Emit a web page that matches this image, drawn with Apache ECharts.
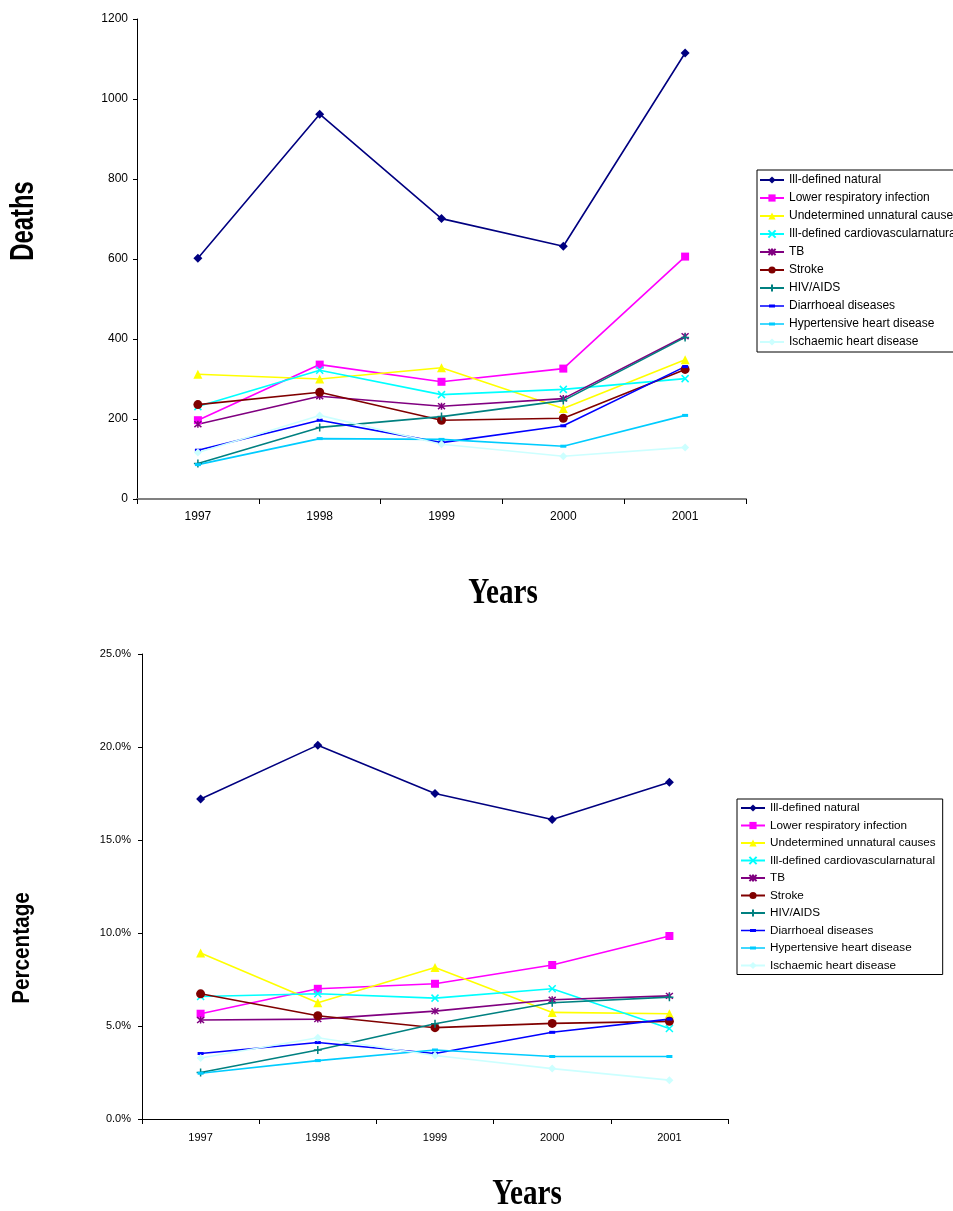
<!DOCTYPE html>
<html><head><meta charset="utf-8">
<script src="https://cdn.jsdelivr.net/npm/echarts@6/dist/echarts.min.js"></script>
<style>html,body{margin:0;padding:0;background:#fff}#c{width:953px;height:1211px}</style>
</head><body><div id="c"></div>
<script>
const years = ['1997','1998','1999','2000','2001'];
const seriesNames = ['Ill-defined natural','Lower respiratory infection','Undetermined unnatural causes','Ill-defined cardiovascularnatural','TB','Stroke','HIV/AIDS','Diarrhoeal diseases','Hypertensive heart disease','Ischaemic heart disease'];

// Deaths
const deathsIllNatural   = [602, 962, 701, 632, 1115];
const deathsLowerResp    = [197, 336, 293, 326, 606];
const deathsUndetermined = [312, 300, 328, 226, 348];
const deathsCardio       = [231, 322, 261, 274, 301];
const deathsTB           = [187, 257, 232, 251, 407];
const deathsStroke       = [236, 267, 197, 202, 324];
const deathsHIV          = [89, 179, 206, 246, 404];
const deathsDiarrhoeal   = [122, 197, 141, 183, 331];
const deathsHypertensive = [86, 151, 149, 132, 209];
const deathsIschaemic    = [116, 209, 137, 107, 129];

// Percentage
const pctIllNatural   = [17.2, 20.1, 17.5, 16.1, 18.1];
const pctLowerResp    = [5.66, 7.0, 7.27, 8.28, 9.84];
const pctUndetermined = [8.93, 6.25, 8.14, 5.73, 5.66];
const pctCardio       = [6.59, 6.73, 6.5, 7.0, 4.87];
const pctTB           = [5.32, 5.37, 5.8, 6.41, 6.62];
const pctStroke       = [6.73, 5.55, 4.91, 5.14, 5.25];
const pctHIV          = [2.5, 3.71, 5.12, 6.25, 6.55];
const pctDiarrhoeal   = [3.52, 4.11, 3.52, 4.66, 5.37];
const pctHypertensive = [2.46, 3.14, 3.71, 3.36, 3.36];
const pctIschaemic    = [3.28, 4.37, 3.41, 2.71, 2.09];

const deathsTicks = [0, 200, 400, 600, 800, 1000, 1200];
const pctTicks = [0, 5, 10, 15, 20, 25];

const deathsData = [deathsIllNatural, deathsLowerResp, deathsUndetermined, deathsCardio, deathsTB, deathsStroke, deathsHIV, deathsDiarrhoeal, deathsHypertensive, deathsIschaemic];
const pctData = [pctIllNatural, pctLowerResp, pctUndetermined, pctCardio, pctTB, pctStroke, pctHIV, pctDiarrhoeal, pctHypertensive, pctIschaemic];

const colors = ['#000080','#FF00FF','#FFFF00','#00FFFF','#800080','#800000','#008080','#0000FF','#00CCFF','#CCFFFF'];
const X_PATH = 'path://M0,0L10,10M10,0L0,10';
const AST_PATH = 'path://M0,0L10,10M10,0L0,10M5,-1L5,11';
const PLUS_PATH = 'path://M5,0L5,10M0,5L10,5';
// legend icon: line across plus a short dash marker, in a 24x9 box
const DASH_ICON = 'path://M0,0h0.01v0.01h-0.01z M24,9h-0.01v-0.01h0.01z M0,3.7h24v1.6h-24z M9,3h6v3h-6z';
const styles = [
  {symbol:'diamond', size:9, stroke:false},
  {symbol:'rect', size:8, stroke:false},
  {symbol:'triangle', size:9, stroke:false},
  {symbol:X_PATH, size:7, stroke:true},
  {symbol:AST_PATH, size:7, stroke:true},
  {symbol:'circle', size:9, stroke:false},
  {symbol:PLUS_PATH, size:8, stroke:true},
  {symbol:'rect', size:[6,3], stroke:false, icon: DASH_ICON},
  {symbol:'rect', size:[6,3], stroke:false, icon: DASH_ICON},
  {symbol:'diamond', size:8, stroke:false}
];

const FONT = 'Liberation Sans, Arial, sans-serif';

function makeSeries(dataSets, axisIdx) {
  return dataSets.map((d, i) => ({
    name: seriesNames[i],
    type: 'line',
    xAxisIndex: axisIdx, yAxisIndex: axisIdx,
    data: d,
    symbol: styles[i].symbol,
    symbolSize: styles[i].size,
    showAllSymbol: true,
    animation: false,
    lineStyle: {color: colors[i], width: 1.6},
    itemStyle: styles[i].stroke ? {color: colors[i], borderColor: colors[i], borderWidth: 1.5} : {color: colors[i], borderWidth: 0},
    emphasis: {disabled: true}
  }));
}

const legendData = seriesNames.map((n, i) => styles[i].icon ? {name: n, icon: styles[i].icon} : {name: n});

function legendBase(fontSize) {
  return {
    orient: 'vertical',
    data: legendData,
    itemWidth: 24, itemHeight: 9,
    borderColor: '#000', borderWidth: 1, borderRadius: 0,
    backgroundColor: '#fff',
    selectedMode: false,
    textStyle: {fontFamily: FONT, fontSize: fontSize, color: '#000', lineHeight: 14}
  };
}

const chart = echarts.init(document.getElementById('c'), null, {renderer: 'canvas'});
chart.setOption({
  animation: false,
  backgroundColor: '#fff',
  color: colors,
  grid: [
    {left: 137, width: 609, top: 19, height: 480},
    {left: 142, width: 586, top: 654, height: 465}
  ],
  xAxis: [
    {gridIndex: 0, type: 'category', data: years, boundaryGap: true,
     axisLine: {lineStyle: {color: '#808080', width: 2}},
     axisTick: {show: true, length: 5, lineStyle: {color: '#000'}},
     axisLabel: {fontFamily: FONT, fontSize: 12, color: '#000', margin: 12},
     splitLine: {show: false}},
    {gridIndex: 1, type: 'category', data: years, boundaryGap: true,
     axisLine: {lineStyle: {color: '#000', width: 1}},
     axisTick: {show: true, length: 5, lineStyle: {color: '#000'}},
     axisLabel: {fontFamily: FONT, fontSize: 11, color: '#000', margin: 13},
     splitLine: {show: false}}
  ],
  yAxis: [
    {gridIndex: 0, type: 'value', min: deathsTicks[0], max: deathsTicks[deathsTicks.length-1], interval: 200,
     axisLine: {show: true, lineStyle: {color: '#000'}},
     axisTick: {show: true, length: 4, lineStyle: {color: '#000'}},
     axisLabel: {fontFamily: FONT, fontSize: 12, color: '#000', margin: 9, formatter: v => String(v)},
     splitLine: {show: false}},
    {gridIndex: 1, type: 'value', min: pctTicks[0], max: pctTicks[pctTicks.length-1], interval: 5,
     axisLine: {show: true, lineStyle: {color: '#000'}},
     axisTick: {show: true, length: 4, lineStyle: {color: '#000'}},
     axisLabel: {fontFamily: FONT, fontSize: 11, color: '#000', margin: 11,
       formatter: v => v.toFixed(1) + '%'},
     splitLine: {show: false}}
  ],
  legend: [
    Object.assign(legendBase(12), {left: 757, top: 170, itemGap: 4, padding: [3, 6, 3, 2]}),
    Object.assign(legendBase(11.7), {left: 737, top: 799, itemGap: 3.5, padding: [2, 7, 2, 3]})
  ],
  graphic: [
    {type: 'text', x: 24, y: 221, rotation: Math.PI/2, scaleX: 0.7, silent: true,
     style: {text: 'Deaths', font: 'bold 34px ' + FONT, fill: '#000', align: 'center', verticalAlign: 'middle'}},
    {type: 'text', x: 23, y: 948, rotation: Math.PI/2, scaleX: 0.9, silent: true,
     style: {text: 'Percentage', font: 'bold 23px ' + FONT, fill: '#000', align: 'center', verticalAlign: 'middle'}},
    {type: 'text', x: 503, y: 594, scaleX: 0.81, silent: true,
     style: {text: 'Years', font: 'bold 36px "Liberation Serif", "Times New Roman", serif', fill: '#000', align: 'center', verticalAlign: 'middle'}},
    {type: 'text', x: 527, y: 1195, scaleX: 0.81, silent: true,
     style: {text: 'Years', font: 'bold 36px "Liberation Serif", "Times New Roman", serif', fill: '#000', align: 'center', verticalAlign: 'middle'}}
  ],
  series: makeSeries(deathsData, 0).concat(makeSeries(pctData, 1))
});
</script></body></html>
